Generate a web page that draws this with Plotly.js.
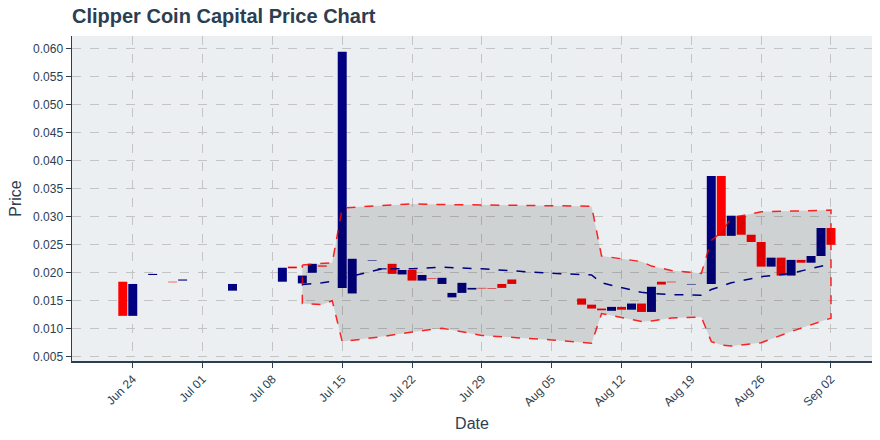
<!DOCTYPE html>
<html>
<head>
<meta charset="utf-8">
<script src="https://cdn.plot.ly/plotly-3.0.1.min.js"></script>
<style>html,body{margin:0;padding:0;background:#fff;}#chart{width:880px;height:440px;}</style>
</head>
<body>
<div id="chart"></div>
<script>
// Candle data (daily open / close)
const dates = ['2018-06-23','2018-06-24','2018-06-26','2018-06-28','2018-06-29','2018-07-04','2018-07-09','2018-07-10','2018-07-11','2018-07-12','2018-07-13','2018-07-15','2018-07-16','2018-07-18','2018-07-19','2018-07-20','2018-07-21','2018-07-22','2018-07-23','2018-07-24','2018-07-25','2018-07-26','2018-07-27','2018-07-28','2018-07-29','2018-07-30','2018-07-31','2018-08-01','2018-08-08','2018-08-09','2018-08-10','2018-08-11','2018-08-12','2018-08-13','2018-08-14','2018-08-15','2018-08-16','2018-08-17','2018-08-19','2018-08-21','2018-08-22','2018-08-23','2018-08-24','2018-08-25','2018-08-26','2018-08-27','2018-08-28','2018-08-29','2018-08-30','2018-08-31','2018-09-01','2018-09-02'];
const openP = [0.0184,0.0123,0.0196,0.0184,0.0186,0.0168,0.0184,0.0211,0.0181,0.0200,0.0213,0.0173,0.0163,0.0221,0.0206,0.0216,0.0197,0.0205,0.0186,0.0190,0.0180,0.0156,0.0164,0.0170,0.0173,0.0172,0.0180,0.0188,0.0154,0.0143,0.0136,0.0132,0.0139,0.0134,0.0145,0.0130,0.0184,0.0184,0.0179,0.0180,0.0373,0.0266,0.0302,0.0268,0.0255,0.0211,0.0227,0.0195,0.0223,0.0218,0.0230,0.0280];
const closeP = [0.0123,0.0180,0.0198,0.0183,0.0188,0.0180,0.0209,0.0208,0.0195,0.0216,0.0211,0.0595,0.0225,0.0222,0.0208,0.0198,0.0205,0.0186,0.0196,0.0189,0.0191,0.0164,0.0182,0.0173,0.0172,0.0171,0.0173,0.0180,0.0143,0.0136,0.0133,0.0139,0.0134,0.0145,0.0130,0.0175,0.0179,0.0183,0.0180,0.0373,0.0266,0.0302,0.0268,0.0255,0.0211,0.0227,0.0195,0.0223,0.0218,0.0230,0.0280,0.0250];

// Bollinger band & moving average
const bandDates = ['2018-07-11','2018-07-13','2018-07-14','2018-07-15','2018-07-19','2018-07-22','2018-07-25','2018-07-29','2018-08-05','2018-08-09','2018-08-10','2018-08-12','2018-08-14','2018-08-15','2018-08-17','2018-08-20','2018-08-21','2018-08-22','2018-08-23','2018-08-26','2018-08-29','2018-09-02'];
const upperBand = [0.0214,0.0216,0.0218,0.0316,0.0320,0.0323,0.0322,0.0321,0.0320,0.0319,0.0230,0.0225,0.0220,0.0212,0.0204,0.0199,0.0258,0.0272,0.0298,0.0309,0.0310,0.0312];
const movingAvg = [0.0179,0.0182,0.0185,0.0190,0.0207,0.0207,0.0210,0.0207,0.0199,0.0196,0.0182,0.0174,0.0165,0.0163,0.0161,0.0160,0.0170,0.0176,0.0182,0.0193,0.0199,0.0216];
const lowerBand = [0.0145,0.0143,0.0150,0.0077,0.0086,0.0094,0.0101,0.0088,0.0080,0.0074,0.0127,0.0120,0.0113,0.0114,0.0119,0.0121,0.0077,0.0071,0.0069,0.0075,0.0095,0.0119];

const UP = '#000080', DOWN = '#ff0000';
const DAY = 86400000;

const upX = [], upBase = [], upH = [], dnX = [], dnBase = [], dnH = [];
dates.forEach((d, i) => {
  const o = openP[i], c = closeP[i];
  if (c >= o) { upX.push(d); upBase.push(o); upH.push(c - o); }
  else { dnX.push(d); dnBase.push(c); dnH.push(o - c); }
});

const traces = [
  {type:'bar', x:upX, y:upH, base:upBase, width:0.9*DAY, marker:{color:UP, line:{width:0}}, hoverinfo:'skip', showlegend:false},
  {type:'bar', x:dnX, y:dnH, base:dnBase, width:0.9*DAY, marker:{color:DOWN, line:{width:0}}, hoverinfo:'skip', showlegend:false},
  {type:'scatter', mode:'lines',
   x: bandDates.concat(bandDates.slice().reverse(), [bandDates[0]]),
   y: upperBand.concat(lowerBand.slice().reverse(), [upperBand[0]]),
   fill:'toself', fillcolor:'rgba(0,0,0,0.12)',
   line:{color:'rgba(255,0,0,0.85)', width:1.5, dash:'dash'}, hoverinfo:'skip', showlegend:false},
  {type:'scatter', mode:'lines', x:bandDates, y:movingAvg,
   line:{color:UP, width:1.5, dash:'dash'}, hoverinfo:'skip', showlegend:false}
];

const FONT = 'Liberation Sans, Arial, sans-serif';
const layout = {
  width:880, height:440,
  margin:{l:72, r:8, t:36, b:79},
  paper_bgcolor:'#ffffff', plot_bgcolor:'#eceff1',
  barmode:'overlay', showlegend:false,
  font:{family:FONT, size:12, color:'#2c3e50'},
  title:{text:'<b>Clipper Coin Capital Price Chart</b>', x:72/880, xanchor:'left', xref:'container', y:1-15.8/440, yanchor:'middle', yref:'container', font:{family:FONT, size:20, color:'#2c3e50'}},
  xaxis:{
    type:'date', range:['2018-06-17 21:50','2018-09-06 02:40'],
    tick0:'2018-06-24', dtick:7*DAY, tickformat:'%b %d', tickangle:-45,
    showgrid:true, gridcolor:'#c4c4c4', griddash:'dash', gridwidth:1,
    showline:true, linecolor:'#2c3e50', linewidth:1.5,
    ticks:'outside', ticklen:5, tickcolor:'#2c3e50',
    tickfont:{family:FONT, size:12, color:'#2c3e50'},
    zeroline:false,
    title:{text:'Date', standoff:9, font:{family:FONT, size:16, color:'#2c3e50'}}
  },
  yaxis:{
    range:[0.00423, 0.06232], dtick:0.005, tick0:0, tickformat:'.3f',
    showgrid:true, gridcolor:'#c4c4c4', griddash:'dash', gridwidth:1,
    showline:true, linecolor:'#2c3e50', linewidth:1.5,
    ticks:'outside', ticklen:5, tickcolor:'#2c3e50',
    tickfont:{family:FONT, size:12, color:'#2c3e50'},
    zeroline:false,
    title:{text:'Price', standoff:7, font:{family:FONT, size:16, color:'#2c3e50'}}
  }
};

Plotly.newPlot('chart', traces, layout, {displayModeBar:false, staticPlot:true});
</script>
</body>
</html>
